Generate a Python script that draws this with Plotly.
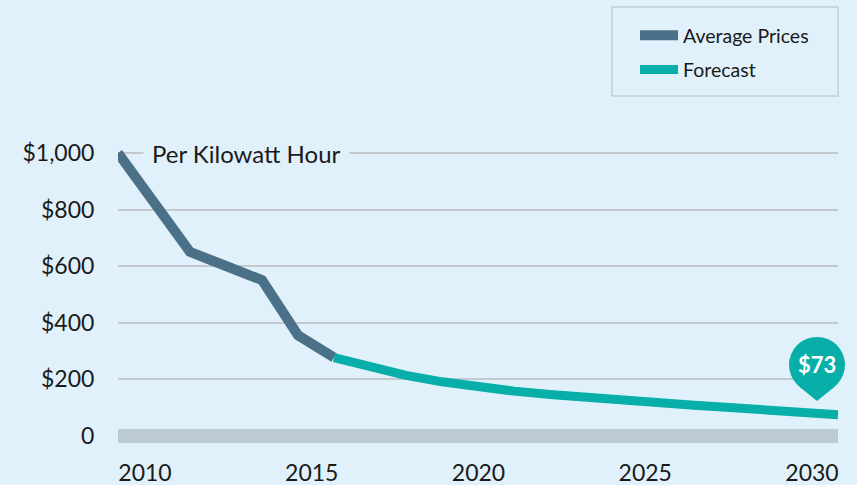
import plotly.graph_objects as go

# ---- data ----
hist_years = [2010, 2011, 2012, 2013, 2014, 2015, 2016]
hist_prices = [1000, 825, 650, 600, 550, 355, 276]

fc_years = [2016, 2017, 2018, 2019, 2020, 2021, 2022, 2023, 2024, 2025,
            2026, 2027, 2028, 2029, 2030]
fc_prices = [276, 243, 213, 190, 172, 157, 145, 134, 124, 115,
             107, 99, 91, 82, 73]

y_ticks = [0, 200, 400, 600, 800, 1000]
y_labels = ["0", "$200", "$400", "$600", "$800", "$1,000"]
x_ticks = [2010, 2015, 2020, 2025, 2030]
x_labels = ["2010", "2015", "2020", "2025", "2030"]

pin_label = "$73"
unit_label = "Per Kilowatt Hour"

# ---- styles ----
BG = "#e0f1fb"
HIST = "#4b7189"
FC = "#07afa8"
GRID = "#c3c9cd"
ZERO = "#bccad4"
FONT = "Lato"

fig = go.Figure()
fig.add_trace(go.Scatter(x=hist_years, y=hist_prices, mode="lines",
                         name="Average Prices", legendgroup="a",
                         line=dict(color=HIST, width=10), hoverinfo="skip"))
fig.add_trace(go.Scatter(x=fc_years, y=fc_prices, mode="lines",
                         name="Forecast", legendgroup="b",
                         line=dict(color=FC, width=9), hoverinfo="skip"))
# invisible trace to carry the tick-label axis
fig.add_trace(go.Scatter(x=[x_ticks[0], x_ticks[-1]], y=[None, None], xaxis="x2",
                         showlegend=False, hoverinfo="skip"))

# teardrop pin above the last forecast point (pixel offsets relative to the point)
px_y = fc_prices[-1]
cx, cy, r = -21, 50, 28
fig.add_shape(type="circle", xref="paper", yref="y", xsizemode="pixel", ysizemode="pixel",
              xanchor=1.0, yanchor=px_y, x0=cx - r, x1=cx + r, y0=cy - r, y1=cy + r,
              fillcolor=FC, line=dict(width=0))
fig.add_shape(type="path", xref="paper", yref="y", xsizemode="pixel", ysizemode="pixel",
              xanchor=1.0, yanchor=px_y,
              path=f"M{cx-17.6},{cy-21.8} L{cx+17.6},{cy-21.8} L{cx},{cy-36} Z",
              fillcolor=FC, line=dict(width=0))
fig.add_annotation(x=1.0, y=px_y, xref="paper", yref="y", xshift=cx, yshift=cy,
                   xanchor="center", yanchor="middle",
                   text=f"<b>{pin_label}</b>", showarrow=False,
                   font=dict(family=FONT, size=22, color="white"))

# unit label over the top grid line
fig.add_annotation(x=0.035, xref="paper", y=y_ticks[-1], yref="y", xanchor="left",
                   text=unit_label, showarrow=False, bgcolor=BG, borderpad=8,
                   font=dict(family=FONT, size=24, color="#1a1a1a"))

# legend box
fig.add_shape(type="rect", xref="paper", yref="paper",
              x0=(612 - 118) / 720, x1=1.0,
              y0=1 + (120 - 96) / 325, y1=1 + (120 - 7) / 325,
              line=dict(color="#bccfdc", width=1.5), fillcolor=BG, layer="below")

fig.update_layout(
    width=857, height=485,
    margin=dict(l=118, r=19, t=120, b=40, autoexpand=False),
    paper_bgcolor=BG, plot_bgcolor=BG,
    font=dict(family=FONT, color="#1a1a1a"),
    showlegend=True,
    legend=dict(xref="container", yref="container", x=635 / 857, y=1 - 16 / 485,
                xanchor="left", yanchor="top", bgcolor="rgba(0,0,0,0)",
                font=dict(family=FONT, size=19.5, color="#1a1a1a"),
                tracegroupgap=6, itemwidth=38),
    xaxis=dict(range=[2010, 2030], showgrid=False, zeroline=False,
               showticklabels=False, showline=False, fixedrange=True),
    xaxis2=dict(overlaying="x", anchor="y", side="bottom",
                range=[2009.19, 2030.78], tickvals=x_ticks, ticktext=x_labels,
                showgrid=False, zeroline=False, showline=False,
                ticks="outside", ticklen=7, tickcolor="rgba(0,0,0,0)",
                tickfont=dict(family=FONT, size=23, color="#1a1a1a")),
    yaxis=dict(range=[-33.6, 1116.8], tickvals=y_ticks, ticktext=y_labels,
               showgrid=True, gridcolor=GRID, gridwidth=1.5,
               zeroline=True, zerolinecolor=ZERO, zerolinewidth=14,
               showline=False, ticks="outside", ticklen=18,
               tickcolor="rgba(0,0,0,0)",
               tickfont=dict(family=FONT, size=23, color="#1a1a1a")),
)

fig.write_html("out.html", config={"displayModeBar": False},
               post_script="document.body.style.margin='0';")
